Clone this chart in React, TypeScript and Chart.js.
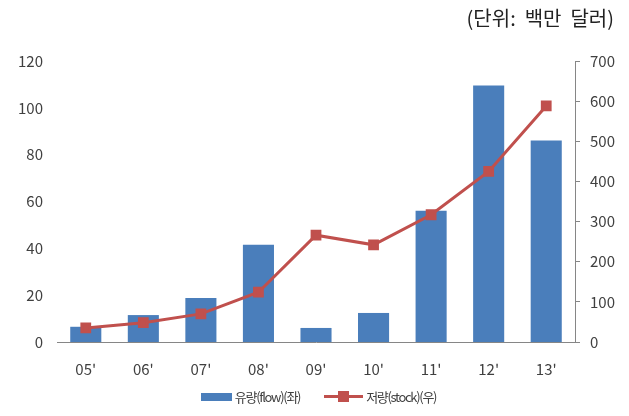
import React, { useEffect, useRef } from "react";
import { Chart, registerables } from "chart.js";

Chart.register(...registerables);

const categories = ["05'", "06'", "07'", "08'", "09'", "10'", "11'", "12'", "13'"];
const flowValues = [6.5, 11.5, 18.8, 41.5, 6, 12.4, 56, 109.5, 86];
const stockValues = [35, 48, 70, 124, 266, 242, 317, 425, 588];
const leftTicks = [0, 20, 40, 60, 80, 100, 120];
const rightTicks = [0, 100, 200, 300, 400, 500, 600, 700];
const flowLabel = "유량(flow)(좌)";
const stockLabel = "저량(stock)(우)";
const unitLabel = "(단위:  백만  달러)";

const FONT = "'Noto Sans CJK KR', 'Noto Sans', sans-serif";
const BLUE = "#4a7ebb";
const RED = "#c0504d";
const TICK = "#404040";
const AXIS = "#868686";

export default function App() {
  const ref = useRef<HTMLCanvasElement>(null);
  useEffect(() => {
    if (!ref.current) return;
    const chart = new Chart(ref.current, {
      type: "bar",
      data: {
        labels: categories,
        datasets: [
          {
            type: "line",
            label: stockLabel,
            data: stockValues,
            yAxisID: "y1",
            borderColor: RED,
            backgroundColor: RED,
            borderWidth: 3,
            pointStyle: "rect",
            pointRadius: 5.5,
            pointBackgroundColor: RED,
            pointBorderColor: RED,
            tension: 0,
            order: 0,
          } as any,
          {
            type: "bar",
            label: flowLabel,
            data: flowValues,
            yAxisID: "y",
            backgroundColor: BLUE,
            barPercentage: 0.54,
            categoryPercentage: 1,
            order: 1,
          },
        ],
      },
      options: {
        animation: false,
        responsive: false,
        maintainAspectRatio: false,
        layout: { padding: { top: 61, left: 0, right: 0, bottom: 0 } },
        plugins: { legend: { display: false }, tooltip: { enabled: false }, title: { display: false } },
        scales: {
          x: {
            grid: { display: false, drawTicks: false },
            border: { display: true, color: AXIS, width: 1 },
            ticks: { color: TICK, font: { family: FONT, size: 15 }, padding: 18 },
            afterFit: (s: any) => { s.height = 74; },
          },
          y: {
            position: "left",
            min: 0,
            max: 120,
            afterBuildTicks: (s: any) => { s.ticks = leftTicks.map((v) => ({ value: v })); },
            grid: { display: false, drawTicks: false },
            border: { display: false },
            ticks: { color: TICK, font: { family: FONT, size: 15 }, padding: 14 },
            afterFit: (s: any) => { s.width = 57; },
          },
          y1: {
            position: "right",
            min: 0,
            max: 700,
            afterBuildTicks: (s: any) => { s.ticks = rightTicks.map((v) => ({ value: v })); },
            grid: { display: true, drawOnChartArea: false, drawTicks: true, tickLength: 5, color: AXIS },
            border: { display: true, color: AXIS, width: 1 },
            ticks: { color: TICK, font: { family: FONT, size: 15 }, padding: 10 },
            afterFit: (s: any) => { s.width = 54; },
          },
        },
      },
    });
    return () => chart.destroy();
  }, []);

  return (
    <div style={{ position: "fixed", left: 0, top: 0, width: 629, height: 416, background: "#fff", fontFamily: FONT }}>
      <canvas ref={ref} width={629} height={416} style={{ position: "absolute", left: 0, top: 0 }} />
      <div style={{ position: "absolute", right: 15, top: 3, fontSize: 20, color: "#222", whiteSpace: "pre" }}>{unitLabel}</div>
      <div style={{ position: "absolute", left: 0, width: 629, top: 387, display: "flex", justifyContent: "center", alignItems: "center", fontSize: 13, color: TICK, paddingLeft: 4 }}>
        <span style={{ display: "inline-block", width: 31, height: 8, background: BLUE, marginRight: 3 }} />
        <span style={{ letterSpacing: -1.3 }}>{flowLabel}</span>
        <span style={{ display: "inline-block", position: "relative", width: 39, height: 3, background: RED, marginLeft: 24, marginRight: 3 }}>
          <span style={{ position: "absolute", left: 14, top: -4, width: 11, height: 11, background: RED }} />
        </span>
        <span style={{ letterSpacing: -1.3 }}>{stockLabel}</span>
      </div>
    </div>
  );
}
